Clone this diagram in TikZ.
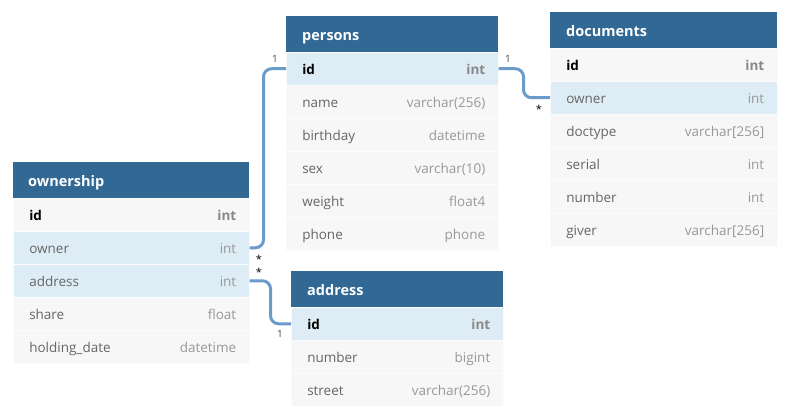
\documentclass[tikz,border=0pt]{standalone}
\usepackage{fontspec}
\setmainfont{Open Sans}
\definecolor{hdr}{HTML}{316894}
\definecolor{hl}{HTML}{DEEDF5}
\definecolor{plain}{HTML}{F7F7F7}
\definecolor{fieldc}{HTML}{666666}
\definecolor{typec}{HTML}{999999}
\definecolor{idtype}{HTML}{888888}
\definecolor{connc}{HTML}{6A9BCB}
\definecolor{cardc}{HTML}{444444}
\newcommand{\tblrow}[7]{%
  \node[rowbox, fill=#7, minimum width=#4pt, text width=#4pt] (#1) at (#2,#3)
    {\hspace*{16pt}#5\hfill#6\hspace*{13pt}\null};}
\newcommand{\fld}[1]{\textcolor{fieldc}{#1}}
\newcommand{\typ}[1]{\textcolor{typec}{#1}}
\newcommand{\idf}{\textbf{\textcolor{black}{id}}}
\newcommand{\idt}{\textbf{\textcolor{idtype}{int}}}
\begin{document}
\begin{tikzpicture}[x=1pt,y=-1pt,
  hdrbox/.style={anchor=north west, fill=hdr, minimum height=36pt, inner xsep=0pt,
    inner ysep=0pt, text height=24pt, text depth=12pt,
    font=\fontsize{14.5}{16}\selectfont\bfseries, text=white, align=left},
  rowbox/.style={anchor=north west, minimum height=33pt, inner xsep=0pt, inner ysep=0pt,
    text height=22.5pt, text depth=10.5pt,
    draw=white!60!plain, line width=0.5pt, font=\fontsize{13.5}{16}\selectfont, align=left},
  conn/.style={draw=connc, line width=3pt, rounded corners=8pt},
  card/.style={font=\fontsize{10}{12}\selectfont, text=cardc, inner sep=0pt},
  star/.style={font=\fontsize{11}{12}\selectfont, text=black, inner sep=0pt}]
\useasboundingbox[fill=white] (0,0) rectangle (786,417);
% persons
\node[hdrbox, minimum width=212pt, text width=212pt] (persons) at (286,16) {\hspace*{16pt}persons};
\tblrow{p-id}{286}{52}{212}{\idf}{\idt}{hl}
\tblrow{p-name}{286}{85}{212}{\fld{name}}{\typ{varchar(256)}}{plain}
\tblrow{p-birth}{286}{118}{212}{\fld{birthday}}{\typ{datetime}}{plain}
\tblrow{p-sex}{286}{151}{212}{\fld{sex}}{\typ{varchar(10)}}{plain}
\tblrow{p-weight}{286}{184}{212}{\fld{weight}}{\typ{float4}}{plain}
\tblrow{p-phone}{286}{217}{212}{\fld{phone}}{\typ{phone}}{plain}
% documents
\node[hdrbox, minimum width=227pt, text width=227pt] (documents) at (550,12) {\hspace*{16pt}documents};
\tblrow{d-id}{550}{48}{227}{\idf}{\idt}{plain}
\tblrow{d-owner}{550}{81}{227}{\fld{owner}}{\typ{int}}{hl}
\tblrow{d-doctype}{550}{114}{227}{\fld{doctype}}{\typ{varchar[256]}}{plain}
\tblrow{d-serial}{550}{147}{227}{\fld{serial}}{\typ{int}}{plain}
\tblrow{d-number}{550}{180}{227}{\fld{number}}{\typ{int}}{plain}
\tblrow{d-giver}{550}{213}{227}{\fld{giver}}{\typ{varchar[256]}}{plain}
% ownership
\node[hdrbox, minimum width=236pt, text width=236pt] (ownership) at (13,162) {\hspace*{15pt}ownership};
\tblrow{o-id}{13}{198}{236}{\idf}{\idt}{plain}
\tblrow{o-owner}{13}{231}{236}{\fld{owner}}{\typ{int}}{hl}
\tblrow{o-address}{13}{264}{236}{\fld{address}}{\typ{int}}{hl}
\tblrow{o-share}{13}{297}{236}{\fld{share}}{\typ{float}}{plain}
\tblrow{o-hold}{13}{330}{236}{\fld{holding\_date}}{\typ{datetime}}{plain}
% address
\node[hdrbox, minimum width=212pt, text width=212pt] (address) at (291,271) {\hspace*{16pt}address};
\tblrow{a-id}{291}{307}{212}{\idf}{\idt}{hl}
\tblrow{a-number}{291}{340}{212}{\fld{number}}{\typ{bigint}}{plain}
\tblrow{a-street}{291}{373}{212}{\fld{street}}{\typ{varchar(256)}}{plain}
% connectors
\draw[conn] (o-owner.east) -- ++(14,0) |- (p-id.west);
\draw[conn] (o-address.east) -- ++(21,0) |- (a-id.west);
\draw[conn] (p-id.east) -- ++(25,0) |- (d-owner.west);
% cardinalities
\node[card] (c1) at (275,59) {1};
\node[star] (s1) at (259,259) {*};
\node[star] (s2) at (259,272) {*};
\node[card] (c2) at (280,334) {1};
\node[card] (c3) at (508,59) {1};
\node[star] (s3) at (539,109) {*};
\end{tikzpicture}
\end{document}
